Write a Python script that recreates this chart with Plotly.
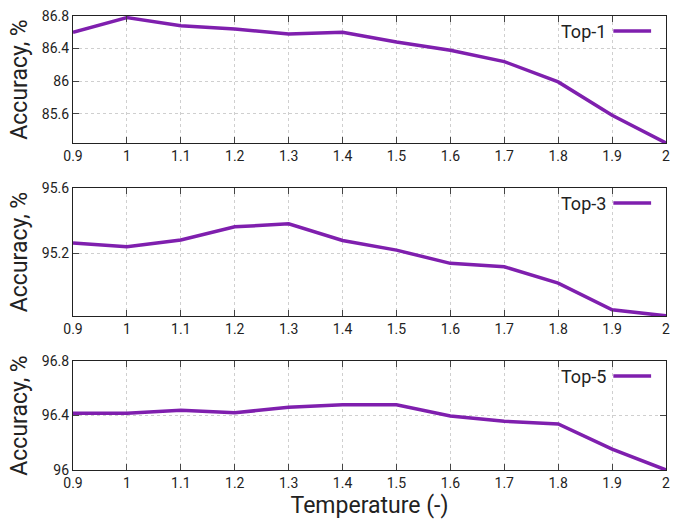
import plotly.graph_objects as go

temperature = [0.9, 1.0, 1.1, 1.2, 1.3, 1.4, 1.5, 1.6, 1.7, 1.8, 1.9, 2.0]
top1 = [86.60, 86.78, 86.68, 86.64, 86.58, 86.60, 86.48, 86.38, 86.24, 85.99, 85.58, 85.24]
top3 = [95.262, 95.239, 95.281, 95.362, 95.380, 95.278, 95.219, 95.138, 95.117, 95.017, 94.853, 94.816]
top5 = [96.417, 96.417, 96.439, 96.420, 96.460, 96.478, 96.478, 96.397, 96.358, 96.338, 96.153, 96.000]

series_names = ["Top-1", "Top-3", "Top-5"]
series_values = [top1, top3, top5]
y_ranges = [[85.24, 86.8], [94.815, 95.6], [96.0, 96.8]]
y_ticks = [[85.6, 86.0, 86.4, 86.8], [95.2, 95.6], [96.0, 96.4, 96.8]]
y_ticklabels = [["85.6", "86", "86.4", "86.8"], ["95.2", "95.6"], ["96", "96.4", "96.8"]]
x_ticks = [0.9, 1.0, 1.1, 1.2, 1.3, 1.4, 1.5, 1.6, 1.7, 1.8, 1.9, 2.0]
x_ticklabels = ["0.9", "1", "1.1", "1.2", "1.3", "1.4", "1.5", "1.6", "1.7", "1.8", "1.9", "2"]

LINE_COLOR = "#7f1fae"
FONT = "Roboto, 'Liberation Sans', sans-serif"
W, H = 675, 520
ML, MR, MT, MB = 73, 5, 16, 50
plot_h = H - MT - MB
plot_w = W - ML - MR

# panel pixel extents (top, bottom) in page coordinates
panels_px = [(16, 143), (188, 316), (361, 470)]


def py(pix):
    return (H - MB - pix) / plot_h


def px(pix):
    return (pix - ML) / plot_w


fig = go.Figure()
shapes = []
annotations = []
for i, (name, vals) in enumerate(zip(series_names, series_values)):
    ax = "" if i == 0 else str(i + 1)
    fig.add_trace(go.Scatter(
        x=temperature, y=vals, mode="lines", name=name,
        line=dict(color=LINE_COLOR, width=3.5),
        xaxis="x" + ax, yaxis="y" + ax, showlegend=False,
        cliponaxis=False,
    ))
    top, bot = panels_px[i]
    axis_common = dict(
        showline=True, linecolor="#222", linewidth=1.2, mirror="ticks",
        ticks="inside", ticklen=6, tickcolor="#444", tickwidth=1,
        showgrid=True, gridcolor="#cfcfcf", griddash="dot", gridwidth=1,
        zeroline=False,
        tickfont=dict(family=FONT, size=14, color="#222"),
    )
    fig.layout["xaxis" + ax] = dict(
        axis_common, domain=[0, 1], range=[0.9, 2.0],
        tickvals=x_ticks, ticktext=x_ticklabels, anchor="y" + ax,
        title=dict(text="Temperature (-)" if i == 2 else "",
                   font=dict(family=FONT, size=23, color="#222"), standoff=6),
    )
    fig.layout["yaxis" + ax] = dict(
        axis_common, domain=[py(bot), py(top)], range=y_ranges[i],
        tickvals=y_ticks[i], ticktext=y_ticklabels[i], anchor="x" + ax,
        title=dict(text="Accuracy, %", font=dict(family=FONT, size=23, color="#222"),
                   standoff=7),
    )
    # legend sample (gnuplot style: text then line)
    ly = top + 15
    annotations.append(dict(
        text=name, x=px(612), y=py(ly), xref="paper", yref="paper",
        xanchor="right", yanchor="middle", showarrow=False,
        font=dict(family=FONT, size=18, color="#222"),
    ))
    shapes.append(dict(
        type="line", xref="paper", yref="paper",
        x0=px(617), x1=px(655), y0=py(ly), y1=py(ly),
        line=dict(color=LINE_COLOR, width=3.5),
    ))

fig.update_layout(
    width=W, height=H,
    margin=dict(l=ML, r=MR, t=MT, b=MB),
    paper_bgcolor="white", plot_bgcolor="white",
    shapes=shapes, annotations=annotations,
    font=dict(family=FONT, color="#222"),
)

fig.write_html(
    "out.html",
    config={"displayModeBar": False},
    post_script="document.body.style.margin='0';document.body.style.overflow='hidden';",
)
